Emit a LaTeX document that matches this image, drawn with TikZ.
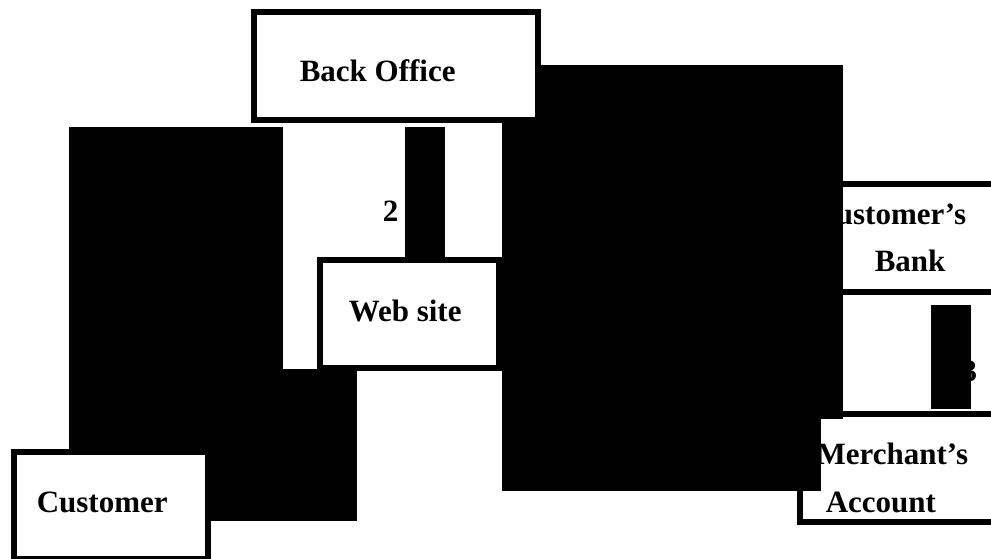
\documentclass[tikz,border=0pt]{standalone}
\usepackage{fontspec}
\setmainfont{Liberation Serif}

\begin{document}
\begin{tikzpicture}[x=0.5pt, y=-0.5pt, thick]
    % Stili
    \tikzstyle{box}=[draw=black, line width=3pt, fill=white]
    \tikzstyle{blk}=[fill=black]
    \tikzstyle{lbl}=[inner sep=0pt, font=\fontsize{15.5}{18}\selectfont\bfseries]

    \useasboundingbox (0,0) rectangle (991,558);
    \clip (0,0) rectangle (991,558);

    % Riquadri dietro
    \draw [box] (800,184) rectangle (1000,292);
    \node (bankA) [lbl, anchor=base east] at (967,224) {Customer’s};
    \node (bankB) [lbl, anchor=base west] at (874,271) {Bank};
    \draw [box] (800,414) rectangle (1000,522);
    \node (merchA) [lbl, anchor=base east] at (969,464) {Merchant’s};
    \node (merchB) [lbl, anchor=base west] at (825,512) {Account};
    \node (numtwo) [lbl, anchor=base west] at (382,221) {2};
    \node (numthree) [lbl, anchor=base east] at (978,381) {3};

    % Blocchi
    \fill [blk] (69,127) rectangle (283,460);
    \fill [blk] (200,369) rectangle (357,521);
    \fill [blk] (405,127) rectangle (445,257);
    \fill [blk] (502,65) rectangle (843,419);
    \fill [blk] (502,419) rectangle (821,491);
    \fill [blk] (931,305) rectangle (971,409);

    % Riquadri davanti
    \draw [box] (254,12) rectangle (538,120);
    \node (office) [lbl, anchor=base west] at (299,81) {Back Office};
    \draw [box] (320,260) rectangle (499,368);
    \node (web) [lbl, anchor=base west] at (348,321) {Web site};
    \draw [box] (14,452) rectangle (208,559);
    \node (customer) [lbl, anchor=base west] at (36,512) {Customer};
\end{tikzpicture}
\end{document}
